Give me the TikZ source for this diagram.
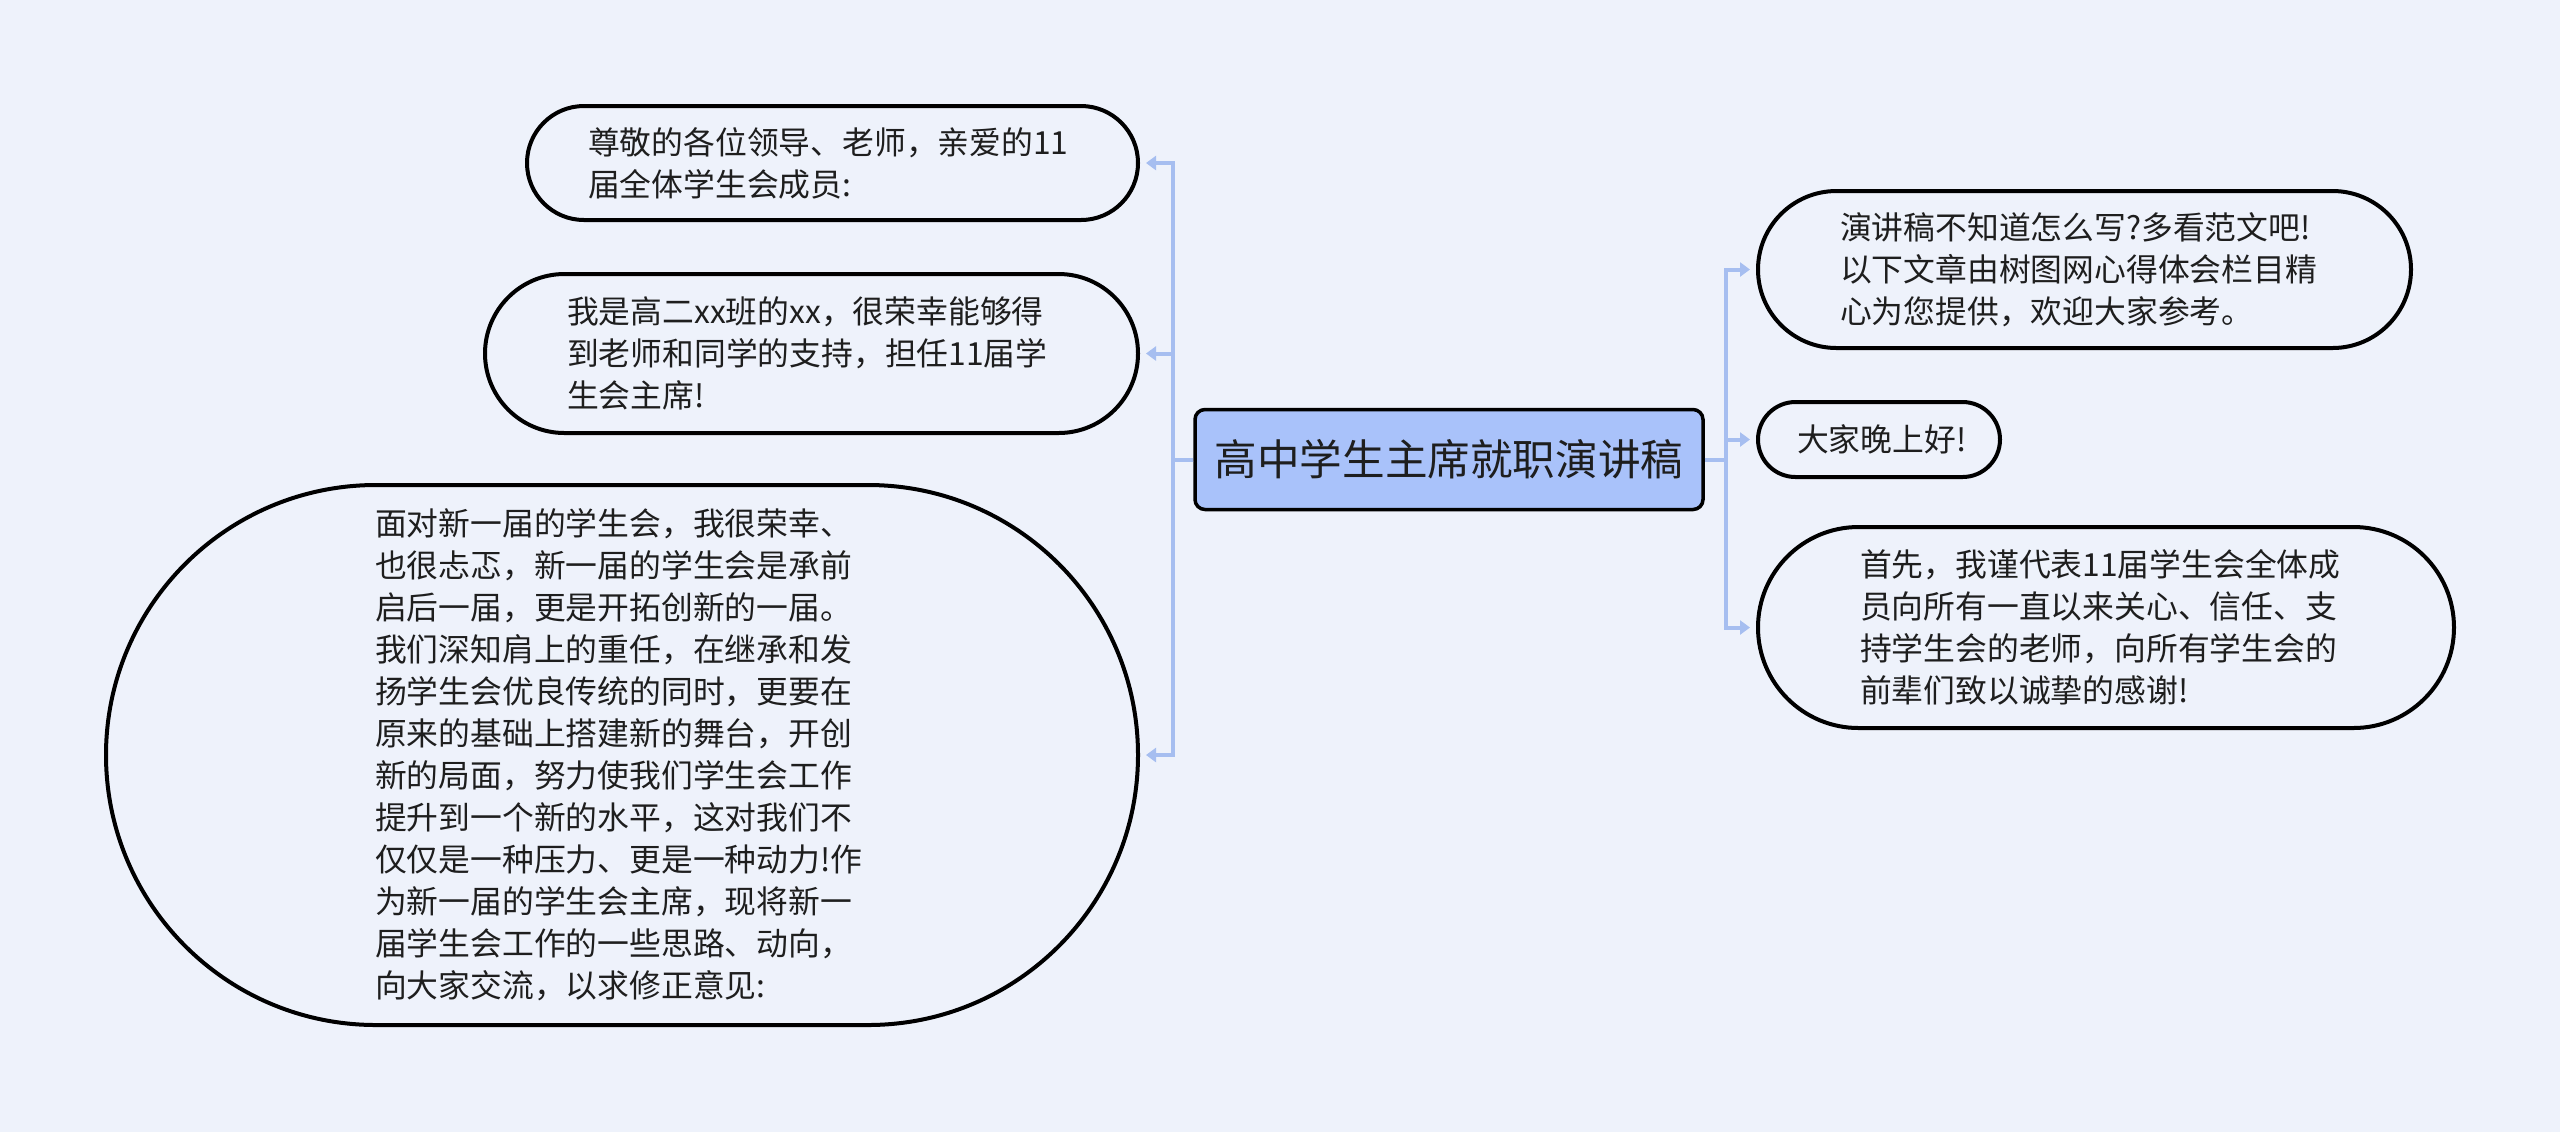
\documentclass[tikz,border=0pt]{standalone}
\usepackage{fontspec}
\newfontfamily\cjkfont{Noto Sans CJK SC}
\usetikzlibrary{arrows.meta}
\definecolor{pageBack}{RGB}{238,242,251}
\definecolor{linkBlue}{RGB}{166,190,240}
\definecolor{topicFill}{RGB}{169,194,250}
\definecolor{inkGray}{RGB}{30,30,30}

\begin{document}
\begin{tikzpicture}
[x=0.5pt,y=-0.5pt,%
  leafDecorate/.style n args={3}{draw=black,line width=2pt,fill=pageBack,text=inkGray,
    align=left,inner sep=0pt,minimum width=#1*0.5pt,minimum height=#2*0.5pt,
    text width=(#1-2*#3)*0.5pt,rounded corners=#2*0.25pt,
    font=\cjkfont\fontsize{15.9pt}{21pt}\selectfont},%
  topicDecorate/.style={draw=black,line width=1.75pt,fill=topicFill,text=inkGray,
    inner sep=0pt,minimum width=254pt,minimum height=50pt,rounded corners=5pt,
    font=\cjkfont\fontsize{21.3pt}{25pt}\selectfont},%
  linkDecorate/.style={-{Triangle[length=5pt,width=7pt]},draw=linkBlue,
    line width=2pt,shorten >=3pt}]
\useasboundingbox[fill=pageBack] (0,0) rectangle (2560,1132);
%% central topic
\node (main) at (1449,459.5) [topicDecorate] {高中学生主席就职演讲稿};
%% left side
\node (n1) at (832.5,163) [leafDecorate={611}{114}{61}]
  {尊敬的各位领导、老师，亲爱的11\\届全体学生会成员:};
\node (n2) at (811.5,353.5) [leafDecorate={653}{159}{82}]
  {我是高二xx班的xx，很荣幸能够得\\到老师和同学的支持，担任11届学\\生会主席!};
\node (n3) at (622,755) [leafDecorate={1032}{540}{269}]
  {面对新一届的学生会，我很荣幸、\\也很忐忑，新一届的学生会是承前\\启后一届，更是开拓创新的一届。\\
   我们深知肩上的重任，在继承和发\\扬学生会优良传统的同时，更要在\\原来的基础上搭建新的舞台，开创\\
   新的局面，努力使我们学生会工作\\提升到一个新的水平，这对我们不\\仅仅是一种压力、更是一种动力!作\\
   为新一届的学生会主席，现将新一\\届学生会工作的一些思路、动向，\\向大家交流，以求修正意见:};
%% right side
\node (n4) at (2084.5,269.5) [leafDecorate={653}{157}{82}]
  {演讲稿不知道怎么写?多看范文吧!\\以下文章由树图网心得体会栏目精\\心为您提供，欢迎大家参考。};
\node (n5) at (1879,439.5) [leafDecorate={242}{75}{39}] {大家晚上好!};
\node (n6) at (2106,627.5) [leafDecorate={696}{201}{102}]
  {首先，我谨代表11届学生会全体成\\员向所有一直以来关心、信任、支\\持学生会的老师，向所有学生会的\\前辈们致以诚挚的感谢!};
%% links
\foreach \leaf in {n1,n2,n3}
{
  \draw[linkDecorate] (main.west) -- ++(-20,0) |- (\leaf.east);
}
\foreach \leaf in {n4,n5,n6}
{
  \draw[linkDecorate] (main.east) -- ++(21,0) |- (\leaf.west);
}
\end{tikzpicture}
\end{document}
